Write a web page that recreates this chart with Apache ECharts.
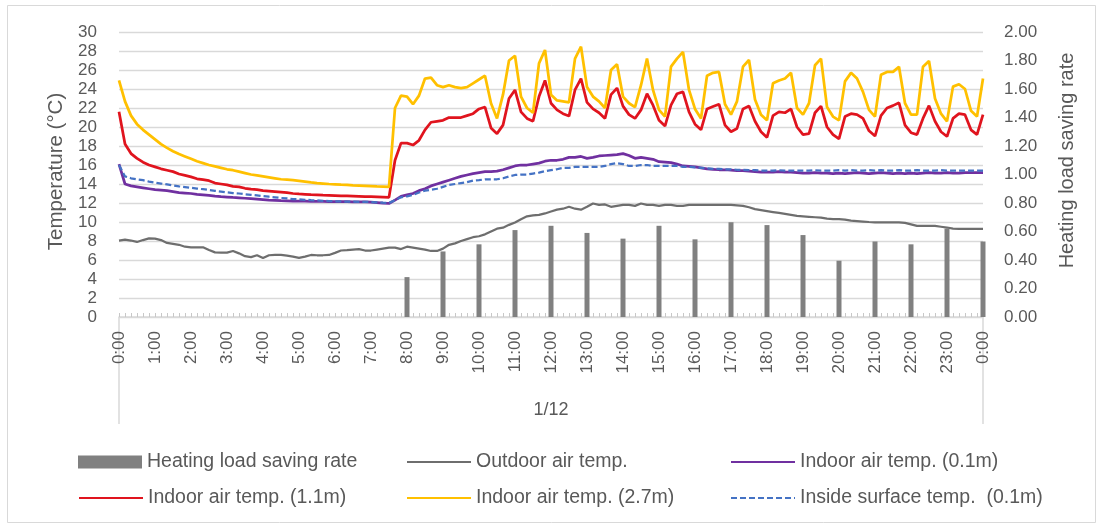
<!DOCTYPE html>
<html><head><meta charset="utf-8">
<script src="https://cdn.jsdelivr.net/npm/echarts@6/dist/echarts.min.js"></script>
<style>html,body{margin:0;padding:0;background:#fff}#c{width:1102px;height:529px}</style>
</head><body><div id="c"></div>
<script>
// 10-minute time steps from 0:00 to 24:00 (145 categories)
const timeLabels = [];
for (let i = 0; i <= 144; i++) {
  const h = Math.floor(i / 6), m = (i % 6) * 10;
  timeLabels.push(h + ':' + (m < 10 ? '0' : '') + m);
}
const groupLabel = ['1/12'];

// Heating load saving rate (hourly, 8:00 .. 24:00)
const barHours = [8, 9, 10, 11, 12, 13, 14, 15, 16, 17, 18, 19, 20, 21, 22, 23, 24];
const savingRate = [0.28, 0.46, 0.51, 0.61, 0.64, 0.59, 0.55, 0.64, 0.545, 0.665, 0.645, 0.575, 0.395, 0.53, 0.51, 0.62, 0.53];

const outdoorTemp = [
  8.05, 8.15, 8.05, 7.9, 8.1, 8.28,
  8.25, 8.1, 7.8, 7.7, 7.6, 7.4,
  7.34, 7.34, 7.34, 7.05, 6.8, 6.78,
  6.78, 6.95, 6.7, 6.4, 6.3, 6.5,
  6.2, 6.5, 6.53, 6.53, 6.45, 6.35,
  6.22, 6.35, 6.53, 6.5, 6.5, 6.53,
  6.75, 7.0, 7.03, 7.1, 7.15, 7.0,
  7.0, 7.1, 7.2, 7.3, 7.3, 7.15,
  7.4, 7.3, 7.2, 7.1, 6.95, 6.95,
  7.2, 7.6, 7.75, 8.0, 8.2, 8.4,
  8.5, 8.7, 9.0, 9.3, 9.4, 9.7,
  9.95, 10.3, 10.6, 10.7, 10.75, 10.9,
  11.1, 11.3, 11.4, 11.6, 11.4, 11.3,
  11.6, 11.95, 11.8, 11.85, 11.6, 11.7,
  11.8, 11.8, 11.7, 11.95, 11.8, 11.8,
  11.7, 11.8, 11.8, 11.7, 11.7, 11.8,
  11.8, 11.8, 11.8, 11.8, 11.8, 11.8,
  11.8, 11.75, 11.7, 11.55, 11.35, 11.25,
  11.15, 11.05, 10.95, 10.85, 10.75, 10.65,
  10.6, 10.55, 10.5, 10.45, 10.35, 10.3,
  10.3, 10.25, 10.15, 10.1, 10.05, 10.0,
  9.97, 9.95, 9.95, 9.95, 9.97, 9.9,
  9.75, 9.6, 9.6, 9.6, 9.58, 9.5,
  9.42, 9.3, 9.27, 9.27, 9.27, 9.27,
  9.27
];

const indoor01 = [
  16.1, 14.0, 13.8, 13.7, 13.6, 13.5,
  13.4, 13.35, 13.3, 13.2, 13.1, 13.05,
  13.0, 12.9, 12.85, 12.8, 12.72, 12.67,
  12.63, 12.58, 12.55, 12.5, 12.45, 12.4,
  12.35, 12.3, 12.28, 12.25, 12.23, 12.21,
  12.2, 12.2, 12.18, 12.17, 12.16, 12.15,
  12.15, 12.14, 12.14, 12.13, 12.13, 12.12,
  12.1, 12.05, 11.98, 11.95, 12.3, 12.7,
  12.85, 13.0, 13.3, 13.5, 13.8, 14.0,
  14.2, 14.4, 14.6, 14.8, 14.95, 15.1,
  15.2, 15.3, 15.3, 15.35, 15.5, 15.7,
  15.9, 16.0, 16.0, 16.1, 16.2, 16.4,
  16.5, 16.5, 16.6, 16.8, 16.8, 16.9,
  16.7, 16.8, 16.95, 17.0, 17.05, 17.1,
  17.2, 17.0, 16.7, 16.8, 16.7, 16.6,
  16.35, 16.3, 16.25, 16.1, 15.9, 15.85,
  15.8, 15.7, 15.6, 15.55, 15.5, 15.5,
  15.45, 15.4, 15.4, 15.35, 15.3, 15.25,
  15.25, 15.25, 15.3, 15.25, 15.25, 15.2,
  15.15, 15.15, 15.2, 15.15, 15.15, 15.1,
  15.15, 15.1, 15.15, 15.2, 15.15, 15.1,
  15.15, 15.2, 15.15, 15.1, 15.15, 15.1,
  15.15, 15.1, 15.15, 15.2, 15.15, 15.15,
  15.2, 15.15, 15.15, 15.2, 15.2, 15.2,
  15.2
];

const indoor11 = [
  21.6, 18.2, 17.2, 16.7, 16.3, 16.0,
  15.8, 15.6, 15.45, 15.3, 15.05, 14.9,
  14.75, 14.55, 14.45, 14.35, 14.1, 14.0,
  13.9, 13.75, 13.7, 13.55, 13.45, 13.4,
  13.3, 13.25, 13.2, 13.15, 13.1, 13.0,
  12.95, 12.92, 12.88, 12.85, 12.82, 12.8,
  12.78, 12.76, 12.74, 12.72, 12.7, 12.68,
  12.66, 12.64, 12.62, 12.6, 16.5, 18.3,
  18.3, 18.1, 18.6, 19.7, 20.5, 20.6,
  20.7, 21.0, 21.0, 21.0, 21.2, 21.4,
  21.9, 22.1, 19.9, 19.3, 20.2, 23.0,
  23.9, 21.6, 20.9, 20.6, 23.2, 24.9,
  22.5, 21.8, 21.4, 21.15, 23.9, 25.1,
  22.6, 21.9, 21.5, 20.9, 23.4, 24.1,
  22.2, 21.3, 20.9, 21.8, 23.5, 22.3,
  20.7, 20.1, 22.3, 23.5, 23.7, 21.6,
  20.3, 19.7, 21.9, 22.15, 22.4, 20.2,
  19.5, 19.85, 21.9, 22.2, 20.6, 19.5,
  18.9, 21.2, 21.6, 21.5, 21.9, 20.0,
  19.2, 19.3, 21.5, 22.2, 20.0, 19.2,
  18.75, 21.1, 21.4, 21.3, 20.9, 19.6,
  19.05, 21.2, 22.0, 22.25, 22.55, 20.2,
  19.4, 19.2, 20.9, 22.25, 20.6, 19.5,
  19.0, 20.9, 21.4, 21.3, 19.7, 19.2,
  21.3
];

const indoor27 = [
  24.9, 22.7, 21.2, 20.3, 19.7, 19.2,
  18.7, 18.2, 17.8, 17.45, 17.15, 16.9,
  16.65, 16.4, 16.2, 16.0, 15.85, 15.7,
  15.55, 15.45, 15.3, 15.15, 15.0, 14.9,
  14.8, 14.7, 14.6, 14.5, 14.45, 14.4,
  14.33, 14.25, 14.17, 14.1, 14.05, 14.0,
  13.97, 13.93, 13.9, 13.86, 13.83, 13.8,
  13.77, 13.74, 13.72, 13.7, 22.0, 23.3,
  23.2, 22.4, 23.3, 25.1, 25.2, 24.4,
  24.2, 24.4, 24.2, 24.1, 24.2, 24.6,
  25.0, 25.4, 22.5, 20.9, 23.4, 27.0,
  27.5, 23.2, 22.0, 21.5, 26.7, 28.1,
  23.4, 22.8, 22.7, 22.6, 27.2, 28.45,
  24.2, 23.2, 22.7, 22.0, 26.0, 26.6,
  23.2, 22.5, 22.1, 24.4, 27.2, 23.9,
  21.8, 21.1, 26.35, 27.2, 27.9, 23.9,
  21.9, 20.9, 25.4, 25.7, 25.8, 22.4,
  21.3, 22.7, 26.35, 27.05, 22.9, 21.3,
  20.7, 24.6, 24.9, 25.1, 25.7, 22.0,
  21.3, 22.5, 26.5, 27.2, 22.1, 21.1,
  20.7, 24.8, 25.7, 25.1, 23.7, 21.8,
  21.1, 25.5, 25.8, 25.8, 26.35, 22.5,
  21.3, 21.3, 26.35, 26.95, 23.0, 21.4,
  20.6, 24.25, 24.5, 24.0, 21.7, 21.1,
  25.1
];

const surface01 = [
  16.0, 14.8, 14.6, 14.5, 14.4, 14.25,
  14.15, 14.05, 13.95, 13.85, 13.75, 13.68,
  13.6, 13.52, 13.45, 13.37, 13.28, 13.2,
  13.12, 13.05, 13.0, 12.92, 12.86, 12.8,
  12.72, 12.66, 12.6, 12.53, 12.48, 12.42,
  12.38, 12.34, 12.3, 12.27, 12.23, 12.2,
  12.18, 12.16, 12.14, 12.14, 12.13, 12.12,
  12.1, 12.07, 12.03, 12.0, 12.3, 12.6,
  12.7, 12.85, 13.1, 13.3, 13.4, 13.5,
  13.7, 13.9, 14.0, 14.1, 14.2, 14.35,
  14.4, 14.5, 14.5, 14.5, 14.6, 14.8,
  14.95, 15.0, 15.0, 15.1, 15.2, 15.35,
  15.45, 15.55, 15.7, 15.7, 15.8, 15.8,
  15.8, 15.8, 15.8, 15.9, 16.1, 16.2,
  16.1, 15.9, 15.9, 16.0, 16.0, 15.9,
  15.9, 15.9, 15.9, 15.9, 15.8, 15.8,
  15.75, 15.7, 15.65, 15.6, 15.6, 15.55,
  15.55, 15.5, 15.5, 15.45, 15.45, 15.4,
  15.4, 15.4, 15.45, 15.4, 15.4, 15.4,
  15.4, 15.4, 15.45, 15.4, 15.4, 15.4,
  15.45, 15.4, 15.45, 15.4, 15.4, 15.45,
  15.4, 15.45, 15.4, 15.4, 15.45, 15.4,
  15.4, 15.45, 15.4, 15.4, 15.4, 15.45,
  15.4, 15.4, 15.4, 15.4, 15.4, 15.4,
  15.4
];

const tempTicks = { min: 0, max: 30, interval: 2 };
const rateTicks = { min: 0, max: 2, interval: 0.2 };

const seriesNames = [
  'Heating load saving rate', 'Outdoor air temp.', 'Indoor air temp. (0.1m)',
  'Indoor air temp. (1.1m)', 'Indoor air temp. (2.7m)', 'Inside surface temp.  (0.1m)'
];

// bar data aligned to 10-minute categories
const barData = timeLabels.map(() => null);
barHours.forEach((h, k) => { barData[h * 6] = savingRate[k]; });

const FONT = 'Liberation Sans';
const TXT = '#595959';
const chart = echarts.init(document.getElementById('c'), null, { renderer: 'canvas' });

function lineSeries(name, data, color, width, type) {
  return {
    name, type: 'line', data, yAxisIndex: 0, xAxisIndex: 0,
    symbol: 'none', showSymbol: false, smooth: false,
    lineStyle: { color, width, type: type || 'solid' },
    itemStyle: { color }
  };
}

function legendAt(name, left, top, isLine) {
  const cfg = {
    data: [name], left, top, orient: 'horizontal',
    itemWidth: 64, itemHeight: isLine ? 14 : 13, padding: 0,
    textStyle: { color: TXT, fontSize: 19.5, fontFamily: FONT },
    selectedMode: false
  };
  if (isLine) cfg.itemStyle = { opacity: 0 };
  else cfg.icon = 'rect';
  return cfg;
}

chart.setOption({
  animation: false,
  backgroundColor: '#ffffff',
  textStyle: { fontFamily: FONT },
  graphic: [{
    type: 'rect', shape: { x: 7.5, y: 5.5, width: 1088, height: 517 },
    style: { fill: 'none', stroke: '#d9d9d9', lineWidth: 1 }, silent: true, z: -10
  }],
  grid: { left: 119, right: 119, top: 32, height: 285 },
  legend: [
    legendAt(seriesNames[0], 78, 452, false),
    legendAt(seriesNames[1], 406, 452, true),
    legendAt(seriesNames[2], 730, 452, true),
    legendAt(seriesNames[3], 78, 488, true),
    legendAt(seriesNames[4], 406, 488, true),
    legendAt(seriesNames[5], 730, 488, true)
  ],
  xAxis: [{
    type: 'category', data: timeLabels, boundaryGap: false,
    axisLine: { show: true, lineStyle: { color: '#d9d9d9', width: 1.5 } },
    axisTick: { show: true, inside: true, length: 4, interval: 0, lineStyle: { color: '#c8c8c8' } },
    axisLabel: {
      interval: 5, rotate: 90, margin: 14, fontSize: 17, color: TXT, fontFamily: FONT,
      formatter: v => (v === '24:00' ? '0:00' : v)
    },
    splitLine: { show: false }
  }, {
    type: 'category', data: groupLabel, position: 'bottom', boundaryGap: true,
    axisLine: { show: false },
    axisTick: { show: true, length: 107, lineStyle: { color: '#d9d9d9', width: 1.5 } },
    axisLabel: { margin: 84, fontSize: 18, color: TXT, fontFamily: FONT },
    splitLine: { show: false }
  }],
  yAxis: [{
    type: 'value', min: tempTicks.min, max: tempTicks.max, interval: tempTicks.interval,
    name: 'Temperature (°C)', nameLocation: 'middle', nameGap: 48,
    nameTextStyle: { fontSize: 20.5, color: TXT, fontFamily: FONT, padding: [0, 0, 0, 6] },
    axisLine: { show: false }, axisTick: { show: false },
    axisLabel: { fontSize: 17, color: TXT, margin: 22, fontFamily: FONT },
    splitLine: { show: true, lineStyle: { color: '#d9d9d9', width: 1.3 } }
  }, {
    type: 'value', position: 'right', min: rateTicks.min, max: rateTicks.max, interval: rateTicks.interval,
    name: 'Heating load saving rate', nameLocation: 'middle', nameGap: 74,
    nameTextStyle: { fontSize: 20, color: TXT, fontFamily: FONT, padding: [0, 0, 0, 28] },
    axisLine: { show: false }, axisTick: { show: false },
    axisLabel: { fontSize: 17, color: TXT, margin: 21, fontFamily: FONT, formatter: v => v.toFixed(2) },
    splitLine: { show: false }
  }],
  series: [
    {
      name: seriesNames[0], type: 'bar', data: barData, yAxisIndex: 1, xAxisIndex: 0,
      barWidth: 5, itemStyle: { color: '#808080' }
    },
    lineSeries(seriesNames[1], outdoorTemp, '#6e6e6e', 2.25),
    lineSeries(seriesNames[2], indoor01, '#7030a0', 2.75),
    lineSeries(seriesNames[3], indoor11, '#e0141e', 2.75),
    lineSeries(seriesNames[4], indoor27, '#ffc000', 2.75),
    lineSeries(seriesNames[5], surface01, '#4472c4', 2.25, [6, 3])
  ]
});
</script></body></html>
